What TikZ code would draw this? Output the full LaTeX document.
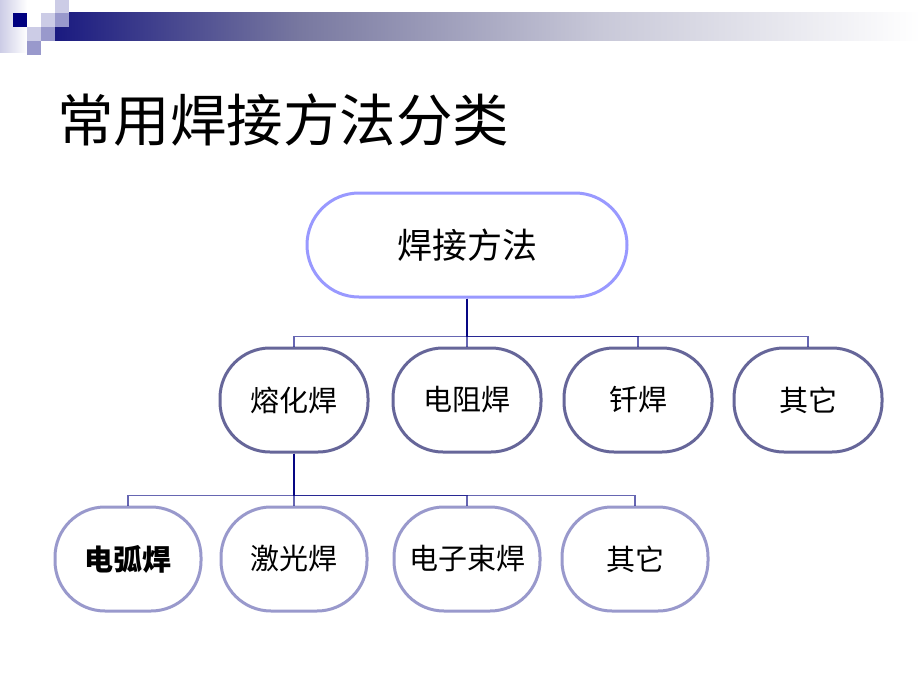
\documentclass[tikz,border=0pt]{standalone}
\usepackage{fontspec}
\newfontfamily\cjk{Noto Sans CJK SC}
\definecolor{navy}{HTML}{1A1A80}
\definecolor{sqdark}{HTML}{000080}
\definecolor{sqmid}{HTML}{9999CC}
\definecolor{sqlight}{HTML}{CCCCE6}
\definecolor{rootline}{HTML}{9999FF}
\definecolor{midline}{HTML}{666699}
\definecolor{lowline}{HTML}{9999CC}
\definecolor{linkcol}{HTML}{000080}
\definecolor{barA}{HTML}{7878A0}
\definecolor{barB}{HTML}{C8C8D8}
\tikzset{
  rootbox/.style={draw=rootline, line width=3pt, rounded corners=52pt,
    minimum width=320pt, minimum height=104pt, inner sep=0pt,
    font=\cjk\fontsize{35}{40}\selectfont},
  midbox/.style={draw=midline, line width=3pt, rounded corners=50pt,
    minimum width=148pt, minimum height=104pt, inner sep=0pt, fill=white,
    font=\cjk\fontsize{29}{34}\selectfont},
  lowbox/.style={draw=lowline, line width=3pt, rounded corners=50pt,
    minimum width=146pt, minimum height=104pt, inner sep=0pt, fill=white,
    font=\cjk\fontsize{29}{34}\selectfont},
  link/.style={draw=linkcol, draw opacity=0.6, line width=1.3pt},
}
\begin{document}
\begin{tikzpicture}[x=1pt,y=-1pt]
\useasboundingbox (0,0) rectangle (920,690);
\fill[white] (0,0) rectangle (920,690);
% header decoration
\shade[left color=sqlight, right color=white] (0,0) rectangle (27,53);
\shade[left color=navy, right color=barA] (55,13) rectangle (300,41);
\shade[left color=barA, right color=barB] (299.5,13) rectangle (600,41);
\shade[left color=barB, right color=white] (599.5,13) rectangle (920,41);
\fill[sqdark] (13,13) rectangle (27,27);
\fill[sqlight] (41,13) rectangle (55,27);
\fill[sqlight] (55,0) rectangle (69,13);
\fill[sqmid] (55,13) rectangle (69,27);
\fill[sqlight] (27,27) rectangle (41,41);
\fill[sqmid] (41,27) rectangle (55,41);
\fill[sqmid] (27,41) rectangle (41,55);
% title
\node[anchor=west, inner sep=0pt, font=\cjk\fontsize{56.5}{62}\selectfont] (title) at (57,120) {常用焊接方法分类};
% nodes
\node[rootbox] (root) at (467,245) {焊接方法};
\node[midbox] (rh) at (294,400) {熔化焊};
\node[midbox] (dz) at (467,400) {电阻焊};
\node[midbox] (qh) at (638,400) {钎焊};
\node[midbox] (qt1) at (808,400) {其它};
\node[lowbox] (dh) at (128,559) {\bfseries 电弧焊};
\node[lowbox] (jg) at (294,559) {激光焊};
\node[lowbox] (dzs) at (467,559) {电子束焊};
\node[lowbox] (qt2) at (635,559) {其它};
% connectors
\foreach \c in {rh,dz,qh,qt1}
  \draw[link] (root.south) -- ++(0,38) -| (\c.north);
\foreach \c in {dh,jg,dzs,qt2}
  \draw[link] (rh.south) -- ++(0,42) -| (\c.north);
\end{tikzpicture}
\end{document}
